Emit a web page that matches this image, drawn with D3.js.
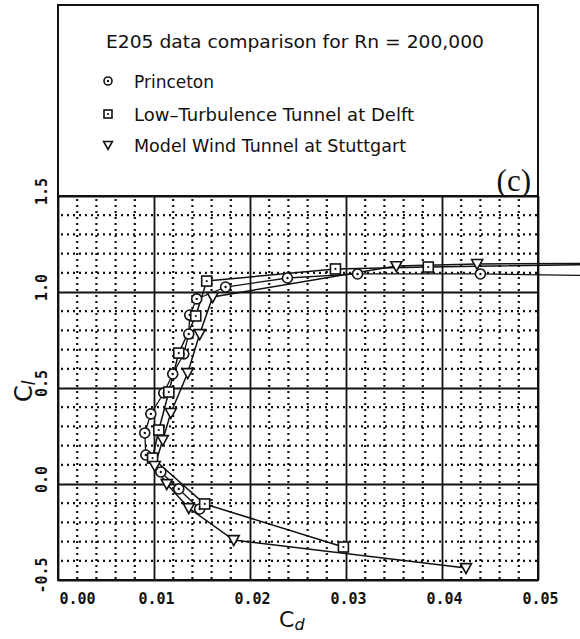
<!DOCTYPE html>
<html><head><meta charset="utf-8">
<script src="https://cdn.jsdelivr.net/npm/d3@7/dist/d3.min.js"></script>
<style>body{margin:0;background:#fff}svg{display:block}</style>
</head><body>
<svg id="c" width="580" height="639"></svg>
<script>
// ---- data ----
const xTicks = [0, 0.01, 0.02, 0.03, 0.04, 0.05];
const yTicks = [-0.5, 0.0, 0.5, 1.0, 1.5];
const xTickLabels = ["0.00", "0.01", "0.02", "0.03", "0.04", "0.05"];
const yTickLabels = ["-0.5", "0.0", "0.5", "1.0", "1.5"];
const seriesNames = ["Princeton", "Low\u2013Turbulence Tunnel at Delft", "Model Wind Tunnel at Stuttgart"];
const princetonCd = [0.065, 0.0440, 0.0312, 0.0239, 0.01746, 0.01445, 0.01372, 0.01362, 0.0131, 0.01195, 0.01102, 0.00967, 0.00904, 0.00915, 0.01071, 0.01258, 0.01476];
const princetonCl = [1.08, 1.094, 1.094, 1.073, 1.026, 0.964, 0.880, 0.781, 0.677, 0.573, 0.474, 0.365, 0.266, 0.151, 0.0625, -0.026, -0.130];
const delftCd = [0.065, 0.03857, 0.0289, 0.01549, 0.01435, 0.01258, 0.01154, 0.0105, 0.00985, 0.01528, 0.02973];
const delftCl = [1.15, 1.130, 1.120, 1.057, 0.875, 0.682, 0.479, 0.281, 0.135, -0.104, -0.328];
const stuttCd = [0.065, 0.04366, 0.03524, 0.01611, 0.01476, 0.01351, 0.01175, 0.01091, 0.01008, 0.01133, 0.01362, 0.0183, 0.0425];
const stuttCl = [1.15, 1.146, 1.135, 0.974, 0.781, 0.578, 0.370, 0.229, 0.094, 0.0, -0.125, -0.292, -0.4375];

// ---- layout ----
const svg = d3.select("#c");
const L = 58, R = 538, T = 196, B = 580;
const x = d3.scaleLinear().domain([0, 0.05]).range([L, R]);
const y = d3.scaleLinear().domain([-0.5, 1.5]).range([B, T]);
const ink = "#111";

// outer box (legend area + plot)
svg.append("rect").attr("x", L).attr("y", 5).attr("width", R - L).attr("height", B - 5)
  .attr("fill", "none").attr("stroke", ink).attr("stroke-width", 2);

// minor dotted grid
const minorX = d3.range(0, 0.0501, 0.002).filter(v => Math.abs(v * 100 - Math.round(v * 100)) > 1e-6);
const minorY = d3.range(-0.5, 1.501, 0.1).filter(v => Math.abs(v * 2 - Math.round(v * 2)) > 1e-6);
const g = svg.append("g");
g.selectAll(".mx").data(minorX).join("line")
  .attr("x1", d => x(d)).attr("x2", d => x(d)).attr("y1", T + 3).attr("y2", B)
  .attr("stroke", ink).attr("stroke-width", 2.2).attr("stroke-dasharray", "2 4");
g.selectAll(".my").data(minorY).join("line")
  .attr("x1", L + 3).attr("x2", R).attr("y1", d => y(d)).attr("y2", d => y(d))
  .attr("stroke", ink).attr("stroke-width", 2.2).attr("stroke-dasharray", "2 4");

// major grid via axes
const gx = svg.append("g").attr("transform", `translate(0,${B})`)
  .call(d3.axisBottom(x).tickValues(xTicks).tickSize(-(B - T)).tickFormat((d, i) => xTickLabels[i]));
gx.select(".domain").remove();
gx.selectAll("line").attr("stroke", ink).attr("stroke-width", 1.8);
gx.selectAll("text").attr("font-family", "DejaVu Sans Mono").attr("font-weight", "bold")
  .attr("font-size", 15).attr("fill", ink).attr("dy", 0).attr("y", 24)
  .attr("text-anchor", "middle")
  .attr("dx", (d, i) => i === 0 ? 19 : 2);

const gy = svg.append("g").attr("transform", `translate(${L},0)`)
  .call(d3.axisLeft(y).tickValues(yTicks).tickSize(-(R - L)).tickFormat((d, i) => yTickLabels[i]));
gy.select(".domain").remove();
gy.selectAll("line").attr("stroke", ink).attr("stroke-width", 1.8);
gy.selectAll("text").attr("font-family", "DejaVu Sans Mono").attr("font-weight", "bold")
  .attr("font-size", 15).attr("fill", ink).attr("x", 0).attr("dy", 0)
  .attr("text-anchor", "middle")
  .attr("transform", "translate(-11,-5) rotate(-90)");

// plot frame
svg.append("rect").attr("x", L).attr("y", T).attr("width", R - L).attr("height", B - T)
  .attr("fill", "none").attr("stroke", ink).attr("stroke-width", 2);

// ---- series ----
const line = d3.line().x(d => x(d[0])).y(d => y(d[1]));
const series = [
  { cd: princetonCd, cl: princetonCl, m: "circle", w: 1.3 },
  { cd: delftCd, cl: delftCl, m: "square", w: 1.5 },
  { cd: stuttCd, cl: stuttCl, m: "tri", w: 1.5 }
];
series.forEach(s => {
  const pts = s.cd.map((c, i) => [c, s.cl[i]]);
  svg.append("path").attr("d", line(pts)).attr("fill", "none").attr("stroke", ink).attr("stroke-width", s.w);
});
function marker(sel, type, px, py, sz) {
  if (type === "circle") {
    sel.append("circle").attr("cx", px).attr("cy", py).attr("r", sz)
      .attr("fill", "#fff").attr("stroke", ink).attr("stroke-width", 1.6);
    sel.append("circle").attr("cx", px).attr("cy", py).attr("r", 1.2).attr("fill", ink);
  } else if (type === "square") {
    sel.append("rect").attr("x", px - sz).attr("y", py - sz).attr("width", 2 * sz).attr("height", 2 * sz)
      .attr("fill", "#fff").attr("stroke", ink).attr("stroke-width", 1.6);
    sel.append("circle").attr("cx", px).attr("cy", py).attr("r", 1.1).attr("fill", ink);
  } else {
    const s = sz * 1.1;
    sel.append("path").attr("d", `M${px - s},${py - s * 0.8}L${px + s},${py - s * 0.8}L${px},${py + s}Z`)
      .attr("fill", "#fff").attr("stroke", ink).attr("stroke-width", 1.6).attr("stroke-linejoin", "miter");
  }
}
const mg = svg.append("g");
series.forEach(s => {
  s.cd.forEach((c, i) => marker(mg, s.m, x(c), y(s.cl[i]), 5));
});

// ---- legend ----
svg.append("text").attr("x", 106).attr("y", 48).attr("font-family", "DejaVu Sans")
  .attr("font-size", 18).attr("textLength", 378).attr("lengthAdjust", "spacingAndGlyphs")
  .attr("fill", ink).text("E205 data comparison for Rn = 200,000");
const legY = [88, 121, 152];
const legW = [80, 280, 272];
seriesNames.forEach((n, i) => {
  marker(svg, series[i].m, 108, legY[i] - 7, 4);
  svg.append("text").attr("x", 134).attr("y", legY[i]).attr("font-family", "DejaVu Sans")
    .attr("font-size", 18).attr("textLength", legW[i]).attr("lengthAdjust", "spacingAndGlyphs")
    .attr("fill", ink).text(n);
});
svg.append("text").attr("x", 531).attr("y", 191).attr("text-anchor", "end")
  .attr("font-family", "Liberation Serif").attr("font-size", 31).attr("fill", ink).text("(c)");

// ---- axis titles ----
const xt = svg.append("text").attr("x", 279).attr("y", 627).attr("font-family", "DejaVu Sans")
  .attr("font-size", 22).attr("fill", ink);
xt.append("tspan").text("C");
xt.append("tspan").attr("font-style", "italic").attr("font-size", 16).attr("dy", 3).text("d");
const yt = svg.append("text").attr("transform", "translate(32,402) rotate(-90)").attr("font-family", "DejaVu Sans")
  .attr("font-size", 24).attr("fill", ink);
yt.append("tspan").text("C");
yt.append("tspan").attr("font-style", "italic").attr("font-size", 17).attr("dy", 3).text("l");
</script>
</body></html>
